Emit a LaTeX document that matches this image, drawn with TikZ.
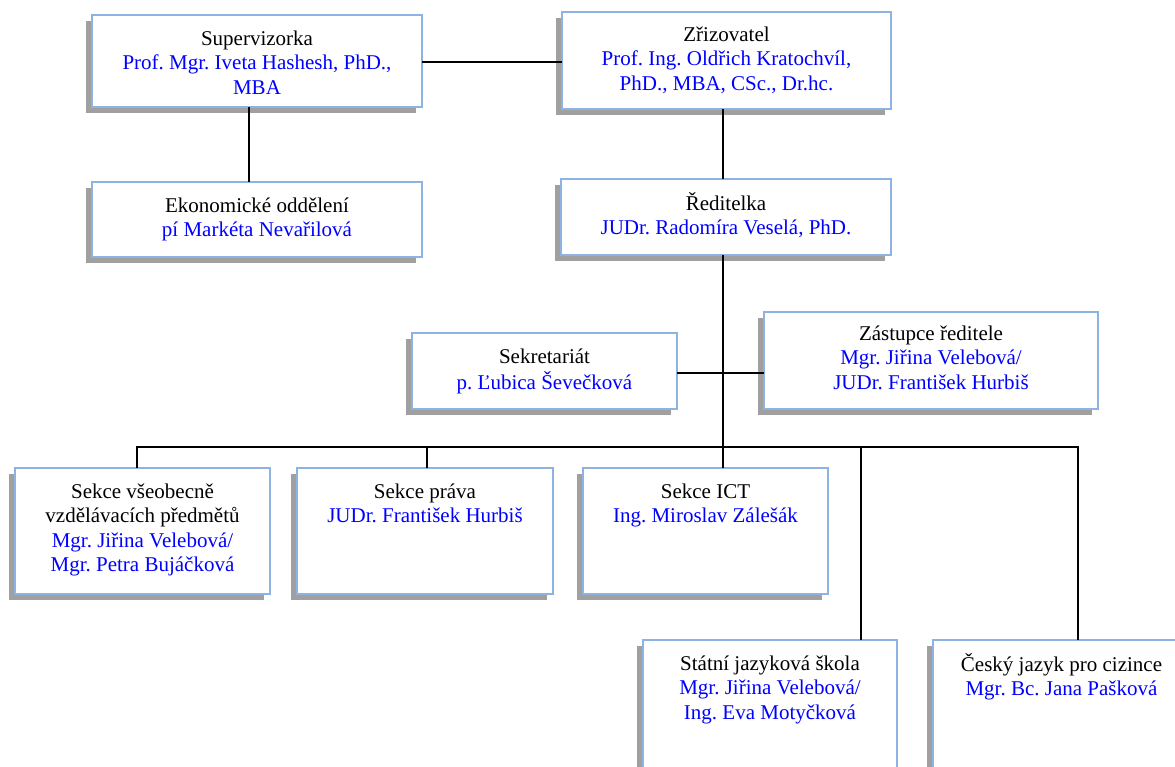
\documentclass[tikz,border=0pt]{standalone}
\usepackage{fontspec}
\setmainfont{Liberation Serif}
\usetikzlibrary{shadows,calc}
\frenchspacing
\definecolor{boxblue}{RGB}{141,179,226}
\definecolor{namblue}{RGB}{0,0,255}
\definecolor{shadowgray}{RGB}{160,160,160}
\tikzset{
  orgbox/.style={draw=boxblue, line width=1.1pt, fill=white, rectangle, inner sep=0pt, outer sep=0pt,
    drop shadow={shadow xshift=-6pt, shadow yshift=-6pt, fill=shadowgray, opacity=1}},
  orgtext/.style={anchor=north, align=center, inner sep=0pt, font=\fontsize{21}{24.5}\selectfont},
  conn/.style={draw=black, line width=2pt}
}
\newcommand{\nm}[1]{\textcolor{namblue}{#1}}
\begin{document}
\begin{tikzpicture}[x=1pt,y=-1pt]
\useasboundingbox (0,0) rectangle (1175,766);
\clip (0,0) rectangle (1175,766);
\coordinate (csup) at (249,0);
\coordinate (cmain) at (723,0);
\coordinate (bus) at (0,447);
\coordinate (d1) at (137,0);
\coordinate (d2) at (427,0);
\coordinate (d4) at (861,0);
\coordinate (d5) at (1078,0);
% boxes
\node[orgbox, minimum width=330pt, minimum height=92pt] (sup) at (257,61) {};
\node[orgbox, minimum width=329pt, minimum height=97pt] (zri) at (726.5,60.5) {};
\node[orgbox, minimum width=330pt, minimum height=75pt] (eko) at (257,219.5) {};
\node[orgbox, minimum width=330pt, minimum height=76pt] (red) at (726,217) {};
\node[orgbox, minimum width=265pt, minimum height=76pt] (sek) at (544.5,371) {};
\node[orgbox, minimum width=334pt, minimum height=97pt] (zas) at (931,360.5) {};
\node[orgbox, minimum width=255pt, minimum height=126pt] (vse) at (142.5,531) {};
\node[orgbox, minimum width=256pt, minimum height=126pt] (pra) at (425,531) {};
\node[orgbox, minimum width=245pt, minimum height=126pt] (ict) at (705.5,531) {};
\node[orgbox, minimum width=254pt, minimum height=150pt] (sta) at (770,715) {};
\node[orgbox, minimum width=257pt, minimum height=150pt] (ces) at (1061.5,715) {};
% connectors
\draw[conn] (sup.east |- 0,62) -- (zri.west |- 0,62);
\draw[conn] (sup.south -| csup) -- (eko.north -| csup);
\draw[conn] (zri.south -| cmain) -- (red.north -| cmain);
\draw[conn] (red.south -| cmain) -- (ict.north -| cmain);
\draw[conn] (sek.east |- 0,373) -- (zas.west |- 0,373);
\draw[conn] (vse.north -| d1) -- (bus -| d1) -- (bus -| d5) -- (ces.north -| d5);
\draw[conn] (bus -| d2) -- (pra.north -| d2);
\draw[conn] (bus -| d4) -- (sta.north -| d4);
% texts
\node[orgtext] (sup-t) at ($(sup.north)+(0,13)$) {\strut Supervizorka\\\nm{Prof. Mgr. Iveta Hashesh, PhD.,}\\\nm{MBA}};
\node[orgtext] (zri-t) at ($(zri.north)+(0,12)$) {\strut Zřizovatel\\\nm{Prof. Ing. Oldřich Kratochvíl,}\\\nm{PhD., MBA, CSc., Dr.hc.}};
\node[orgtext] (eko-t) at ($(eko.north)+(0,13)$) {\strut Ekonomické oddělení\\\nm{pí Markéta Nevařilová}};
\node[orgtext] (red-t) at ($(red.north)+(0,13)$) {\strut Ředitelka\\\nm{JUDr. Radomíra Veselá, PhD.}};
\node[orgtext] (sek-t) at ($(sek.north)+(0,13)$) {\strut Sekretariát\\\nm{p. Ľubica Ševečková}};
\node[orgtext] (zas-t) at ($(zas.north)+(0,11)$) {\strut Zástupce ředitele\\\nm{Mgr. Jiřina Velebová/}\\\nm{JUDr. František Hurbiš}};
\node[orgtext] (vse-t) at ($(vse.north)+(0,13)$) {\strut Sekce všeobecně\\vzdělávacích předmětů\\\nm{Mgr. Jiřina Velebová/}\\\nm{Mgr. Petra Bujáčková}};
\node[orgtext] (pra-t) at ($(pra.north)+(0,13)$) {\strut Sekce práva\\\nm{JUDr. František Hurbiš}};
\node[orgtext] (ict-t) at ($(ict.north)+(0,13)$) {\strut Sekce ICT\\\nm{Ing. Miroslav Zálešák}};
\node[orgtext] (sta-t) at ($(sta.north)+(0,13)$) {\strut Státní jazyková škola\\\nm{Mgr. Jiřina Velebová/}\\\nm{Ing. Eva Motyčková}};
\node[orgtext] (ces-t) at ($(ces.north)+(0,13)$) {\strut Český jazyk pro cizince\\\nm{Mgr. Bc. Jana Pašková}};
\end{tikzpicture}
\end{document}
